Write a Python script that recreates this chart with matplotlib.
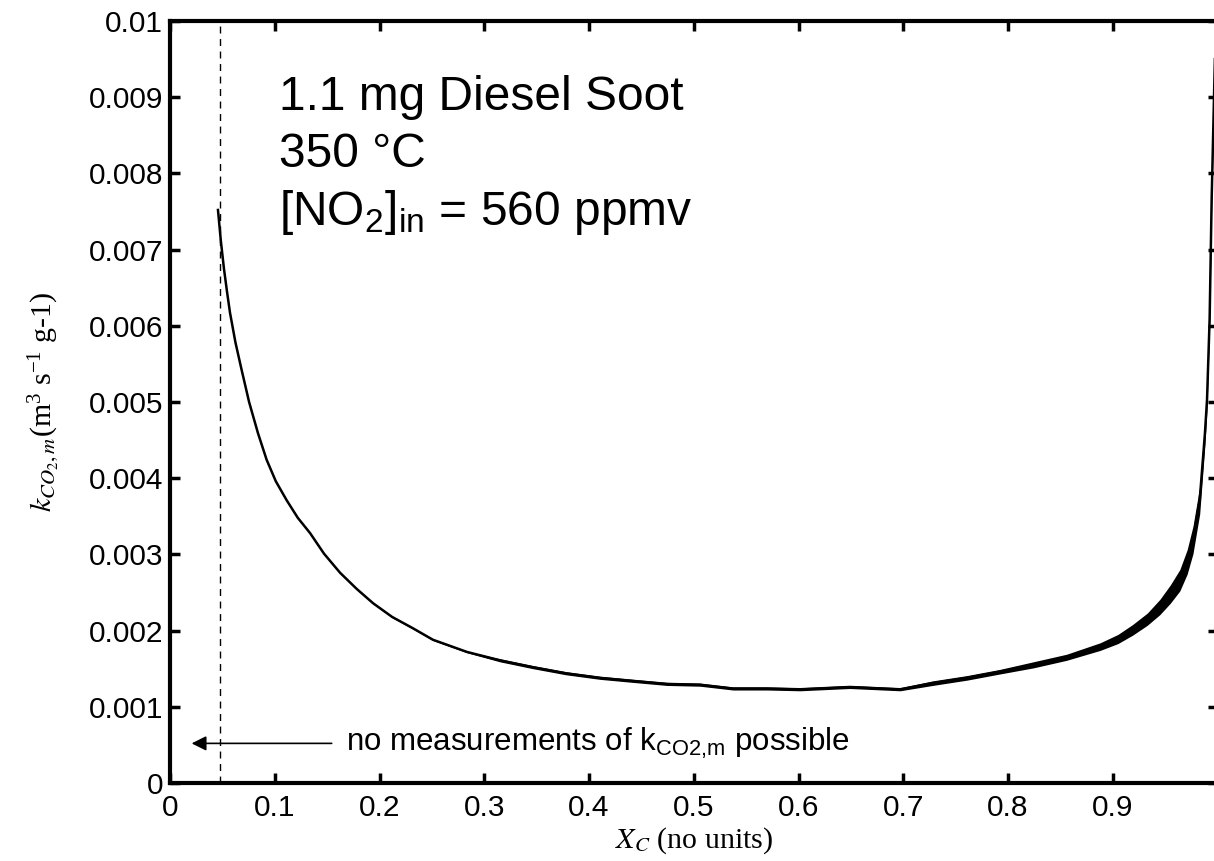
import matplotlib
matplotlib.use("Agg")
import matplotlib.pyplot as plt
import numpy as np

# ---- data ----
xc = [0.0458, 0.0485, 0.0515, 0.0545, 0.0573, 0.0625, 0.0684, 0.0755, 0.084, 0.0923,
      0.101, 0.1114, 0.122, 0.1337, 0.147, 0.1623, 0.178, 0.1938, 0.212, 0.232,
      0.251, 0.2835, 0.315, 0.3465, 0.378, 0.4105, 0.442, 0.4745, 0.506, 0.5375,
      0.57, 0.6014, 0.649, 0.697, 0.728, 0.761, 0.792, 0.824, 0.856, 0.888,
      0.905, 0.919, 0.933, 0.945, 0.955, 0.964, 0.971, 0.9766, 0.983, 0.988,
      0.990, 0.9925, 0.9944, 0.9975]
kco2 = [0.00752, 0.00712, 0.00675, 0.00644, 0.00617, 0.00578, 0.00542, 0.00500, 0.00459, 0.00424,
        0.00396, 0.00371, 0.00348, 0.00328, 0.00301, 0.00276, 0.00255, 0.00236, 0.00218, 0.00203,
        0.00188, 0.00172, 0.00161, 0.00152, 0.00144, 0.00138, 0.00134, 0.00130, 0.00129, 0.00124,
        0.00124, 0.00123, 0.00126, 0.00123, 0.00131, 0.00138, 0.00146, 0.00155, 0.00165, 0.00179,
        0.00189, 0.00201, 0.00215, 0.00231, 0.00248, 0.00266, 0.00290, 0.00319, 0.00371, 0.00459,
        0.00503, 0.00610, 0.00765, 0.0095]
# half-width of the noisy band around the curve
noise = [0.00001] * 20 + [0.00001, 0.00001, 0.00002, 0.00002, 0.00002, 0.00002, 0.00002, 0.00002, 0.00002, 0.00002,
                          0.00002, 0.00002, 0.00002, 0.00002, 0.00003, 0.00003, 0.00003, 0.00004, 0.00004, 0.00005,
                          0.00006, 0.00007, 0.00008, 0.00010, 0.00012, 0.00014, 0.00016, 0.00018, 0.00018, 0.00015,
                          0.00012, 0.00010, 0.00010, 0.00010]

x_limit_line = 0.048
xticks = [0, 0.1, 0.2, 0.3, 0.4, 0.5, 0.6, 0.7, 0.8, 0.9]
xticklabels = ["0", "0.1", "0.2", "0.3", "0.4", "0.5", "0.6", "0.7", "0.8", "0.9"]
yticks = [0, 0.001, 0.002, 0.003, 0.004, 0.005, 0.006, 0.007, 0.008, 0.009, 0.01]
yticklabels = ["0", "0.001", "0.002", "0.003", "0.004", "0.005", "0.006", "0.007", "0.008", "0.009", "0.01"]

plt.rcParams['mathtext.fontset'] = 'stix'
SANS = 'Liberation Sans'
SERIF = 'Liberation Serif'

fig = plt.figure(figsize=(12.14, 8.61), dpi=100)
ax = fig.add_axes([170 / 1214, 78 / 861, 1047.5 / 1214, 762 / 861])

xa = np.array(xc)
ya = np.array(kco2)
na = np.array(noise)
ax.fill_between(xa, ya - na, ya + na, color='black', lw=0)
ax.plot(xa, ya, color='black', lw=1.8)

ax.axvline(x_limit_line, color='black', lw=1.0, ls=(0, (5, 4)))

ax.annotate("", xy=(0.018, 0.00052), xytext=(0.157, 0.00052),
            arrowprops=dict(arrowstyle='-|>', color='black', lw=1.2, mutation_scale=22))
ax.text(0.168, 0.00052, r"no measurements of k$\mathregular{_{CO2{,}m}}$ possible",
        family=SANS, fontsize=22.5, va='center', ha='left')

ax.text(0.104, 0.00883, "1.1 mg Diesel Soot", family=SANS, fontsize=34.5, va='baseline', ha='left')
ax.text(0.104, 0.00808, "350 °C", family=SANS, fontsize=34.5, va='baseline', ha='left')
ax.text(0.104, 0.00732, r"[NO$\mathregular{_2}$]$\mathregular{_{in}}$ = 560 ppmv",
        family=SANS, fontsize=34.5, va='baseline', ha='left')

ax.set_xlim(0, 1)
ax.set_ylim(0, 0.01)
ax.set_xticks(xticks)
ax.set_xticklabels(xticklabels, family=SANS, fontsize=21.5)
ax.set_yticks(yticks)
ax.set_yticklabels(yticklabels, family=SANS, fontsize=21.5)
ax.tick_params(direction='in', length=7, width=2.5, top=True, right=True, pad=8)
ax.tick_params(axis='y', pad=5)
for s in ax.spines.values():
    s.set_linewidth(3)

ax.set_xlabel(r"$X_C$ (no units)", family=SERIF, fontsize=21.5, labelpad=2)
ax.set_ylabel(r"$k_{CO_2,m}$(m$\mathregular{^3}$ s$\mathregular{^{-1}}$ g-1)", family=SERIF,
              fontsize=21.5, labelpad=20)

fig.savefig("out.png", dpi=100)
